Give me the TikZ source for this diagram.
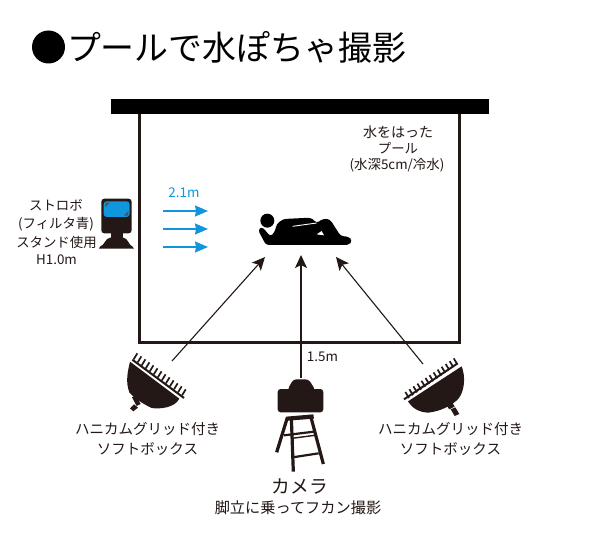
\documentclass[tikz,border=0pt]{standalone}
\usepackage{fontspec}
\setmainfont{Noto Sans CJK JP}
\usetikzlibrary{arrows.meta}
\definecolor{ink}{HTML}{231815}
\definecolor{sky}{HTML}{0F96DC}
\tikzset{
  lbl/.style={inner sep=0pt,text=ink,font=\fontsize{13.4}{14}\selectfont},
  softlbl/.style={inner sep=0pt,text=ink,font=\fontsize{14.5}{14.5}\selectfont},
  blackarrow/.style={draw=ink,line width=1.1pt,-{Stealth[length=13pt,width=12pt,inset=3pt]}},
  bluearrow/.style={draw=sky,line width=1.3pt,-{Stealth[length=13pt,width=11pt,inset=1pt]}},
  tick/.style={draw=ink,line width=1.7pt},
  zoomed/.style={x=0.3333pt,y=-0.3333pt}
}
\begin{document}
\begin{tikzpicture}[x=1pt,y=-1pt]
\useasboundingbox (0,0) rectangle (600,535);
\fill[white] (0,0) rectangle (600,535);
% title
\node[inner sep=0pt,anchor=center,font=\fontsize{33.9}{34}\selectfont,text=black] (title) at (236.5,47.5) {プールで水ぽちゃ撮影};
\fill[black] (48.5,47) circle (16.5);
% pool
\draw[ink,line width=3pt] (139,112) rectangle (459.5,342);
\fill[black] (111,99) rectangle (489,114);
% pool label
\node[lbl,font=\fontsize{14}{14}\selectfont] (p1) at (398,132.5) {水をはった};
\node[lbl] (p2) at (398,148.5) {プール};
\node[lbl] (p3) at (397,165.5) {(水深5cm/冷水)};
% strobe label
\node[lbl] (s1) at (56,205.5) {ストロボ};
\node[lbl] (s2) at (56,224.5) {(フィルタ青)};
\node[lbl] (s3) at (56.5,242.5) {スタンド使用};
\node[lbl] (s4) at (56.5,259.5) {H1.0m};
% blue arrows
\node[lbl,text=sky] (d) at (184,192.5) {2.1m};
\foreach \n/\y in {a/211,b/229,c/247}{
  \coordinate (\n1) at (163,\y);
  \coordinate (\n2) at (208,\y);
  \draw[bluearrow] (\n1) -- (\n2);
}
% strobe
\begin{scope}[shift={(0,170)},zoomed]
  \fill[ink,rounded corners=3pt] (304,86) rectangle (395,190);
  \fill[sky,rounded corners=3pt] (311,94) rectangle (389,141);
  \fill[ink!75] (316,98) -- (330,98) -- (316,112) -- cycle;
  \fill[ink!75] (385,137) -- (371,137) -- (385,123) -- cycle;
  \fill[ink] (332,188) rectangle (368,205);
  \fill[ink] (297,236) -- (300,230) .. controls (315,225) and (315,205) .. (330,203) -- (370,203) .. controls (385,205) and (385,225) .. (398,230) -- (402,236) -- cycle;
\end{scope}
% person
\begin{scope}[shift={(240,200)},zoomed]
  \fill[black] (82,62) circle (21);
  \fill[black,rounded corners=3pt] (54,90) -- (66,80) -- (92,110) -- (105,94) -- (110,72) -- (130,57) -- (213,53) -- (224,63) -- (228,70) -- (250,56) -- (270,58) -- (302,108) -- (326,110) -- (337,122) -- (327,135) -- (78,135) -- cycle;
  \draw[white,line width=0.9pt] (158,79) -- (230,69);
  \fill[white] (230,103) -- (252,106) -- (245,93) -- cycle;
\end{scope}
% black arrows
\coordinate (leftstart) at (172,361);
\coordinate (leftend) at (265,257);
\coordinate (midstart) at (301,378);
\coordinate (midend) at (301,255);
\coordinate (rightstart) at (423,364);
\coordinate (rightend) at (336,257);
\draw[blackarrow] (leftstart) -- (leftend);
\draw[blackarrow] (midstart) -- (midend);
\draw[blackarrow] (rightstart) -- (rightend);
\node[lbl] (h) at (322.5,356.5) {1.5m};
% left softbox
\begin{scope}[shift={(110,340)},zoomed]
  \foreach \i in {0,...,12}{
    \pgfmathsetmacro{\tx}{82+\i*12.1}
    \pgfmathsetmacro{\ty}{40+\i*9}
    \draw[tick] (\tx,\ty) -- (\tx-11,\ty+18);
  }
  \draw[ink,line width=2pt] (67,59) -- (222,174);
  \fill[ink] (60,65) -- (208,176) .. controls (195,203) and (150,208) .. (125,204) .. controls (100,192) and (75,177) .. (58,157) .. controls (46,125) and (53,95) .. (60,65) -- cycle;
  \fill[ink] (66,172) -- (78,166) -- (92,192) -- (80,198) -- cycle;
  \fill[ink] (72,193) -- (84,203) -- (70,214) -- (60,205) -- cycle;
\end{scope}
% right softbox
\begin{scope}[shift={(390,340)},zoomed]
  \foreach \i in {0,...,12}{
    \pgfmathsetmacro{\tx}{46+\i*12.1}
    \pgfmathsetmacro{\ty}{156-\i*8.4}
    \draw[tick] (\tx,\ty) -- (\tx+11,\ty+18);
  }
  \draw[ink,line width=2pt] (42,178) -- (203,70);
  \fill[ink] (54,184) -- (215,79) .. controls (227,110) and (224,150) .. (207,174) .. controls (187,197) and (150,214) .. (115,218) .. controls (90,217) and (68,207) .. (54,184) -- cycle;
  \fill[ink] (170,197) -- (186,186) -- (194,200) -- (178,208) -- cycle;
  \fill[ink] (182,208) -- (196,202) -- (208,222) -- (194,228) -- cycle;
\end{scope}
% camera
\begin{scope}[shift={(260,370)},zoomed]
  \fill[ink,rounded corners=3pt] (53,57) rectangle (190,127);
  \fill[ink,rounded corners=3pt] (82,60) -- (100,28) -- (146,28) -- (166,60) -- cycle;
  \fill[ink] (78,140) -- (160,133) -- (162,146) -- (82,152) -- cycle;
  \draw[ink,line width=3.2pt] (82,143) -- (50,247);
  \draw[ink,line width=3.2pt] (94,142) -- (100,305);
  \draw[ink,line width=3.2pt] (152,138) -- (190,282);
  \draw[ink,line width=2.2pt] (72,196) -- (162,185);
  \draw[ink,line width=1.4pt] (96,205) -- (164,196);
  \draw[ink,line width=2.2pt] (98,262) -- (176,250);
\end{scope}
% labels
\node[softlbl] (l1) at (147.5,429.5) {ハニカムグリッド付き};
\node[softlbl] (l2) at (147.5,449.5) {ソフトボックス};
\node[softlbl] (r1) at (450.5,429.5) {ハニカムグリッド付き};
\node[softlbl] (r2) at (450.5,449.5) {ソフトボックス};
\node[inner sep=0pt,text=ink,font=\fontsize{18.7}{19}\selectfont] (cam) at (300,487) {カメラ};
\node[inner sep=0pt,text=ink,font=\fontsize{15.2}{16}\selectfont] (capt) at (298,507.5) {脚立に乗ってフカン撮影};
\end{tikzpicture}
\end{document}
